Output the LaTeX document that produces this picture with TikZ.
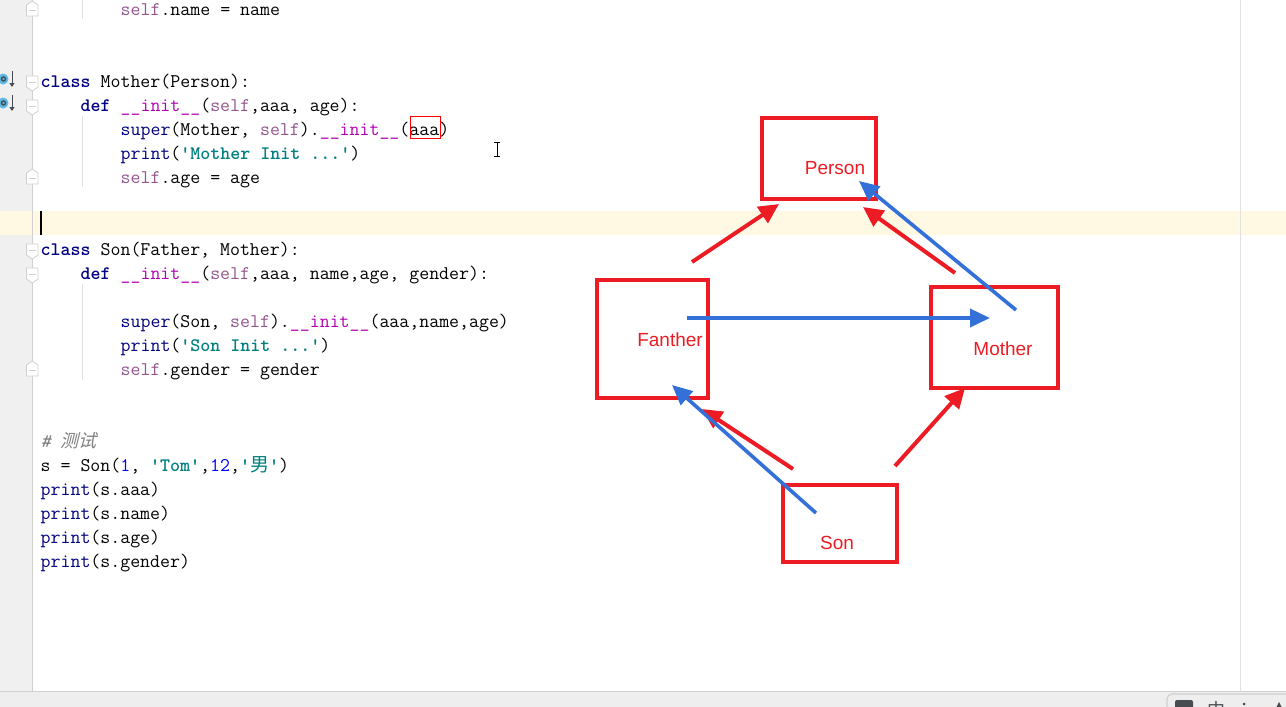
\documentclass[tikz,border=0pt]{standalone}
\usepackage{fontspec}
\usepackage{xcolor}
\usepackage{tikz}
\usetikzlibrary{arrows.meta,positioning}
\setsansfont{Liberation Sans}
\newfontfamily\cjkfont{Noto Sans CJK SC}
\newfontfamily\cjkslant[FakeSlant=0.25]{Noto Sans CJK SC}
\definecolor{ideGutter}{RGB}{240,240,240}
\definecolor{ideLine}{RGB}{208,208,208}
\definecolor{ideGuide}{RGB}{225,225,225}
\definecolor{ideCurrent}{RGB}{255,249,227}
\definecolor{ideBar}{RGB}{238,238,238}
\definecolor{ideIcon}{RGB}{70,76,80}
\definecolor{ideCyan}{RGB}{93,184,229}
\definecolor{kwNavy}{RGB}{0,0,128}
\definecolor{selfPink}{RGB}{148,85,141}
\definecolor{magicPurple}{RGB}{178,0,178}
\definecolor{strTeal}{RGB}{0,128,128}
\definecolor{numBlue}{RGB}{0,0,255}
\definecolor{inkRed}{RGB}{237,28,36}
\definecolor{inkBlue}{RGB}{51,112,216}
\newcommand{\kw}[1]{\textcolor{kwNavy}{\fontsize{19.05}{24}\selectfont\bfseries #1}}
\newcommand{\slf}{\textcolor{selfPink}{self}}
\newcommand{\mg}{\textcolor{magicPurple}{\_\_init\_\_}}
\newcommand{\str}[1]{\textcolor{strTeal}{\fontsize{19.05}{24}\selectfont\bfseries #1}}
\newcommand{\num}[1]{\textcolor{numBlue}{#1}}
\newcommand{\prn}{\textcolor{kwNavy}{print}}
\newcommand{\spr}{\textcolor{kwNavy}{super}}
\tikzstyle{code} = [anchor=base west,inner sep=0pt,xshift=-0.5pt,yshift=0.5pt,font=\ttfamily\fontsize{19.33}{24}\selectfont,text=black]
\tikzstyle{classbox} = [draw=inkRed,line width=3.4pt,fill=none,inner sep=0pt]
\tikzstyle{classname} = [inner sep=0pt,text=inkRed,font=\sffamily\fontsize{19}{22}\selectfont]
\tikzstyle{redarrow} = [line width=4pt,color=inkRed,-{Triangle[length=20pt,width=19pt]}]
\tikzstyle{bluearrow} = [line width=3.6pt,color=inkBlue,-{Triangle[length=20pt,width=18pt]}]
\tikzstyle{fold} = [draw=ideLine,fill=white,line width=0.8pt]
\begin{document}
\begin{tikzpicture}[x=1pt,y=-1pt]
    \useasboundingbox (0,0) rectangle (1286,707);
    \fill[white] (0,0) rectangle (1286,707);

    % Editor background
    \fill[ideGutter] (0,0) rectangle (32.5,691);
    \fill[ideCurrent] (0,211) rectangle (1286,235);
    \draw[ideLine, line width=1pt] (32.5,0) -- (32.5,691);
    \draw[ideGuide, line width=1pt] (1240.5,0) -- (1240.5,691);
    \foreach \ya/\yb in {0/19, 116/187, 284/380} {
        \draw[ideGuide, line width=1pt] (82,\ya) -- (82,\yb);
    }

    % Fold markers
    \foreach \y in {82,106,250,274} {
        \draw[fold] (26.5,\y-6) -- (38,\y-6) -- (38,\y+5) -- (32.25,\y+9) -- (26.5,\y+5) -- cycle;
        \draw[ideLine, line width=0.8pt] (29,\y) -- (35.5,\y);
    }
    \foreach \y in {10,178,370} {
        \draw[fold] (26.5,\y+6) -- (38,\y+6) -- (38,\y-5) -- (32.25,\y-9) -- (26.5,\y-5) -- cycle;
        \draw[ideLine, line width=0.8pt] (29,\y) -- (35.5,\y);
    }

    % Override icons
    \foreach \y in {79,103} {
        \fill[ideCyan] (3,\y) circle (5.5);
        \draw[ideIcon, line width=1.4pt] (3.5,\y) circle (2);
        \draw[ideIcon, line width=1pt, -{Triangle[length=4pt,width=5pt]}] (12,\y-8) -- (12,\y+8);
    }

    % Code
    \node[code] (line1) at (121,16) {\slf.name = name};
    \node[code] (line2) at (41,88) {\kw{class} Mother(Person):};
    \node[code] (line3) at (81,112) {\kw{def} \mg(\slf,aaa, age):};
    \node[code] (line4) at (121,136) {\spr(Mother, \slf).\mg(aaa)};
    \node[code] (line5) at (121,160) {\prn(\str{'Mother Init ...'})};
    \node[code] (line6) at (121,184) {\slf.age = age};
    \node[code] (line7) at (41,256) {\kw{class} Son(Father, Mother):};
    \node[code] (line8) at (81,280) {\kw{def} \mg(\slf,aaa, name,age, gender):};
    \node[code] (line9) at (121,328) {\spr(Son, \slf).\mg(aaa,name,age)};
    \node[code] (line10) at (121,352) {\prn(\str{'Son Init ...'})};
    \node[code] (line11) at (121,376) {\slf.gender = gender};
    \node[code] (line12) at (41,448) {\textcolor{gray}{\itshape \# {\cjkslant\fontsize{18}{24}\selectfont 测试}}};
    \node[code] (line13) at (41,472) {s = Son(\num{1}, \str{'Tom'},\num{12},\str{'{\cjkfont\mdseries\fontsize{19}{24}\selectfont 男}'})};
    \node[code] (line14) at (41,496) {\prn(s.aaa)};
    \node[code] (line15) at (41,520) {\prn(s.name)};
    \node[code] (line16) at (41,544) {\prn(s.age)};
    \node[code] (line17) at (41,568) {\prn(s.gender)};

    % Caret, search mark and mouse cursor
    \fill[black] (40,211) rectangle (42,235);
    \draw[red, line width=1pt] (410.5,116.5) rectangle (440.5,138.5);
    \draw[black, line width=1pt] (497,142) -- (497,156) (494,142) -- (500,142) (494,156) -- (500,156);

    % Class boxes
    \node[classbox, minimum width=114pt, minimum height=81pt] (person) at (819,158.5) {};
    \node[classbox, minimum width=111pt, minimum height=118pt] (father) at (652.5,339) {};
    \node[classbox, minimum width=127pt, minimum height=101pt] (mother) at (994.5,337.5) {};
    \node[classbox, minimum width=114pt, minimum height=77pt] (son) at (840,523.5) {};
    \node[classname] (personname) at (835,168) {Person};
    \node[classname] (fathername) at (670,340) {Fanther};
    \node[classname] (mothername) at (1003,349) {Mother};
    \node[classname] (sonname) at (837,543) {Son};

    % Arrow ends
    \coordinate (fatherup) at (692,262);
    \coordinate (persona) at (779,204);
    \coordinate (motherup) at (955,273);
    \coordinate (personb) at (863,207);
    \coordinate (sonleft) at (793,469);
    \coordinate (fathera) at (702,409);
    \coordinate (sonright) at (895,466);
    \coordinate (mothera) at (965,388);
    \coordinate (sonin) at (816,513);
    \coordinate (fatherb) at (672,385);
    \coordinate (fatherin) at (687,318);
    \coordinate (motherb) at (990,318);
    \coordinate (motherin) at (1016,310);
    \coordinate (personc) at (859,181);

    % Inheritance
    \draw[redarrow] (fatherup) -- (persona);
    \draw[redarrow] (motherup) -- (personb);
    \draw[redarrow] (sonleft) -- (fathera);
    \draw[redarrow] (sonright) -- (mothera);

    % Call order
    \draw[bluearrow] (sonin) -- (fatherb);
    \draw[bluearrow] (fatherin) -- (motherb);
    \draw[bluearrow] (motherin) -- (personc);

    % Status bar
    \fill[ideBar] (0,691) rectangle (1286,707);
    \draw[ideLine, line width=1pt] (0,691.5) -- (1286,691.5);
    \begin{scope}
        \clip (0,0) rectangle (1286,707);
        \draw[ideLine, fill=ideBar, line width=1.2pt, rounded corners=5pt] (1167,720) -- (1167,694) -- (1300,694) -- (1300,720) -- cycle;
        \fill[ideIcon, rounded corners=2pt] (1175,700) rectangle (1193,712);
        \node[inner sep=0pt, text=ideIcon, font=\cjkfont\fontsize{18}{18}\selectfont] (imechar) at (1216,710) {中};
        \fill[ideIcon] (1244,704) circle (1.5);
        \fill[ideIcon] (1279,702) -- (1284,712) -- (1274,712) -- cycle;
    \end{scope}
\end{tikzpicture}
\end{document}
